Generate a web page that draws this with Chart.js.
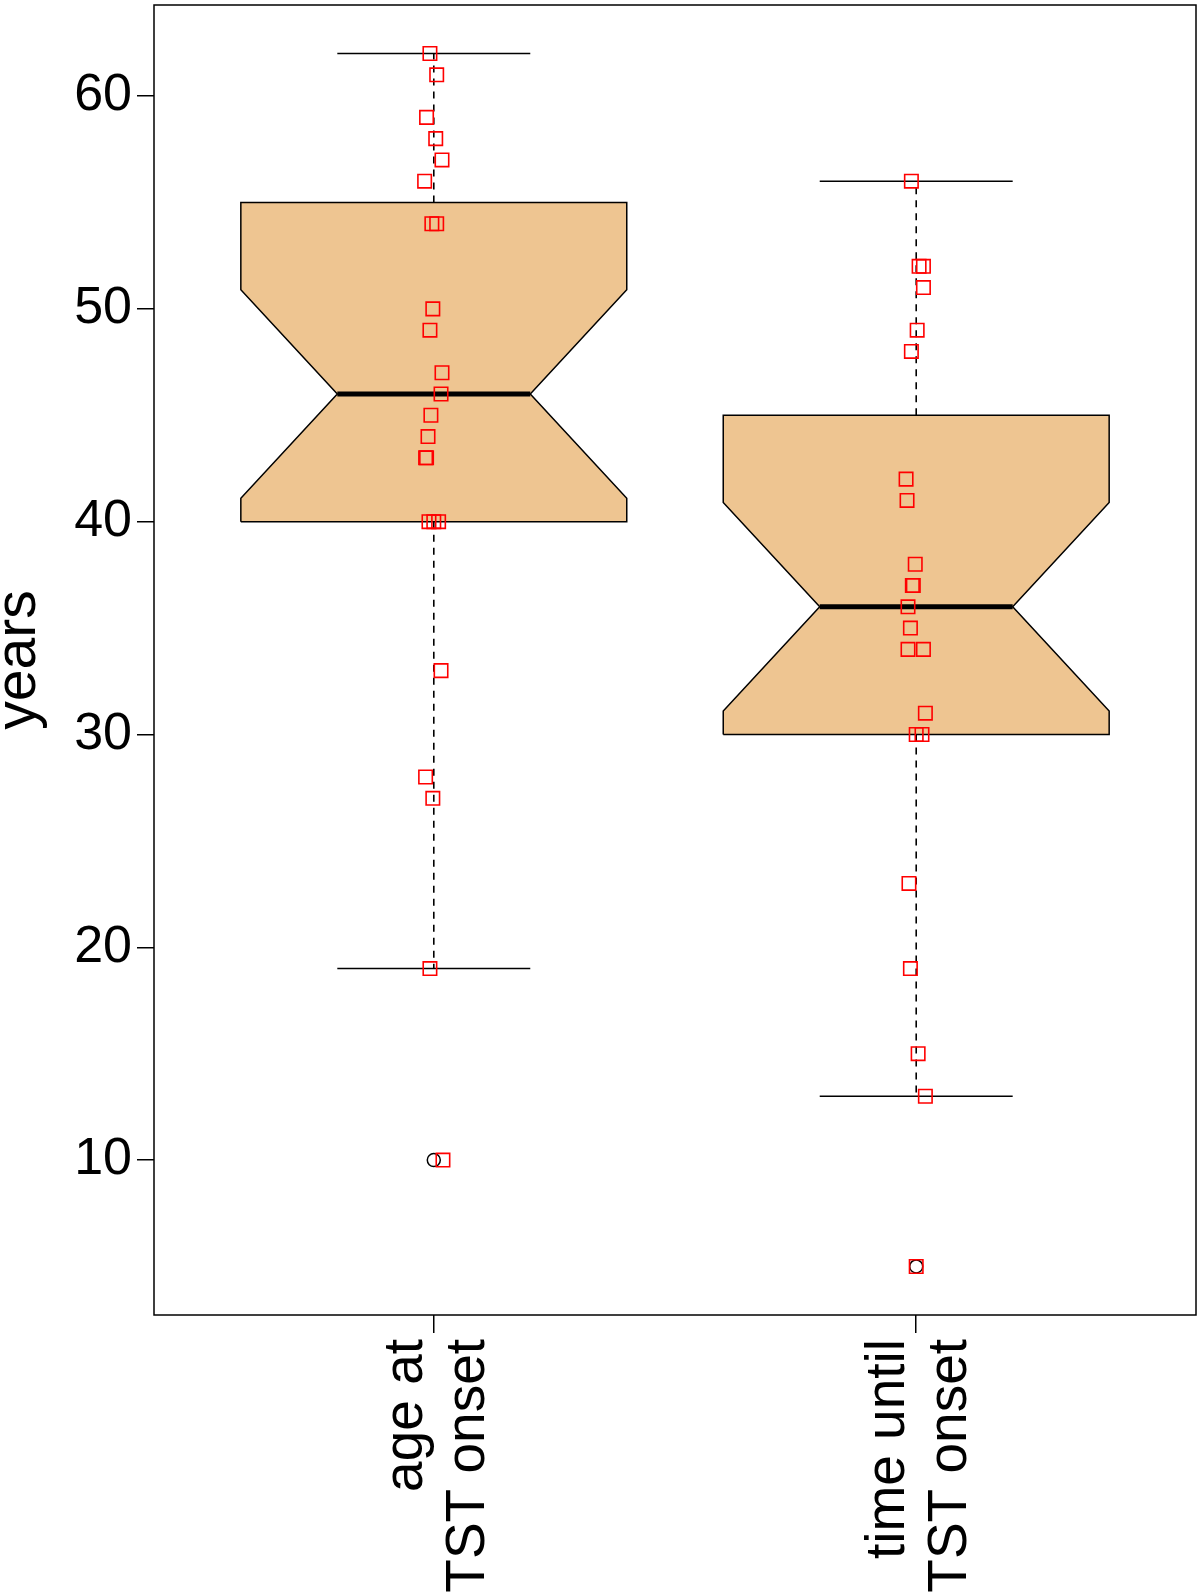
<!DOCTYPE html>
<html>
<head>
<meta charset="utf-8">
<title>years boxplot</title>
<script src="https://cdn.jsdelivr.net/npm/chart.js@4.4.1/dist/chart.umd.min.js"></script>
<style>
  html, body { margin: 0; padding: 0; background: #fff; }
  canvas { display: block; }
</style>
</head>
<body>
<canvas id="boxChart" width="1200" height="1592"></canvas>
<script>
// groups on the x axis (two lines each)
const categories = [['age at', 'TST onset'], ['time until', 'TST onset']];
const yTicks = [10, 20, 30, 40, 50, 60];

// box statistics
const lowerWhisker = [19, 13];
const q1 = [40, 30];
const notchLo = [41.1, 31.1];
const medians = [46, 36];
const notchHi = [50.9, 40.9];
const q3 = [55, 45];
const upperWhisker = [62, 56];
const outliers = [[10], [5]];

// individual observations (red squares) and their horizontal jitter
const ageValues = [62, 61, 59, 58, 57, 56, 54, 54, 50, 49, 47, 46, 45, 44, 43, 43, 40, 40, 40, 33, 28, 27, 19, 10];
const ageJitter = [-0.008, 0.006, -0.015, 0.004, 0.017, -0.019, -0.004, 0.006, -0.002, -0.008, 0.017, 0.015, -0.006, -0.012, -0.017, -0.015, -0.010, 0, 0.010, 0.015, -0.017, -0.002, -0.008, 0.019];
const timeValues = [56, 52, 52, 51, 49, 48, 42, 41, 38, 37, 37, 36, 35, 34, 34, 31, 30, 30, 23, 19, 15, 13, 5];
const timeJitter = [-0.010, 0.006, 0.015, 0.015, 0.002, -0.010, -0.021, -0.019, -0.002, -0.008, -0.006, -0.017, -0.012, -0.017, 0.015, 0.019, 0, 0.012, -0.015, -0.012, 0.004, 0.019, 0];

const BOX_HALF = 0.4;
const CAP_HALF = 0.2;
const FILL = '#EEC591';

function notchedBox(i) {
    const c = i + 1;
    const l = c - BOX_HALF, r = c + BOX_HALF;
    return [
        { x: l, y: q1[i] }, { x: l, y: notchLo[i] }, { x: c - CAP_HALF, y: medians[i] },
        { x: l, y: notchHi[i] }, { x: l, y: q3[i] }, { x: r, y: q3[i] },
        { x: r, y: notchHi[i] }, { x: c + CAP_HALF, y: medians[i] }, { x: r, y: notchLo[i] },
        { x: r, y: q1[i] }, { x: l, y: q1[i] }
    ];
}

function lineSet(data, opts) {
    return Object.assign({
        type: 'scatter',
        data: data,
        showLine: true,
        fill: false,
        borderColor: '#000',
        borderWidth: 1.5,
        pointRadius: 0,
        tension: 0
    }, opts);
}

const datasets = [];
categories.forEach((cat, i) => {
    const c = i + 1;
    datasets.push(lineSet(notchedBox(i), { fill: 'shape', backgroundColor: FILL, order: 6 }));
    datasets.push(lineSet([{ x: c - CAP_HALF, y: medians[i] }, { x: c + CAP_HALF, y: medians[i] }], { borderWidth: 5, order: 5 }));
    datasets.push(lineSet([{ x: c, y: q3[i] }, { x: c, y: upperWhisker[i] }], { borderDash: [7, 6], borderWidth: 1.6, order: 5 }));
    datasets.push(lineSet([{ x: c, y: q1[i] }, { x: c, y: lowerWhisker[i] }], { borderDash: [7, 6], borderWidth: 1.6, order: 5 }));
    datasets.push(lineSet([{ x: c - CAP_HALF, y: upperWhisker[i] }, { x: c + CAP_HALF, y: upperWhisker[i] }], { order: 5 }));
    datasets.push(lineSet([{ x: c - CAP_HALF, y: lowerWhisker[i] }, { x: c + CAP_HALF, y: lowerWhisker[i] }], { order: 5 }));
    datasets.push({
        type: 'scatter',
        data: outliers[i].map(v => ({ x: c, y: v })),
        pointStyle: 'circle',
        pointRadius: 6.5,
        borderColor: '#000',
        borderWidth: 1.5,
        backgroundColor: 'rgba(0,0,0,0)',
        order: 3
    });
});

const obsSets = [[ageValues, ageJitter], [timeValues, timeJitter]];
obsSets.forEach(([vals, jit], i) => {
    datasets.push({
        type: 'scatter',
        data: vals.map((v, k) => ({ x: i + 1 + jit[k], y: v })),
        pointStyle: 'rect',
        pointRadius: 9.5,
        borderColor: '#FF0000',
        borderWidth: 1.6,
        backgroundColor: 'rgba(0,0,0,0)',
        order: 1
    });
});

// frame around the plotting region, like R's box()
const frameBox = {
    id: 'frameBox',
    afterDraw(chart) {
        const a = chart.chartArea;
        const ctx = chart.ctx;
        ctx.save();
        ctx.strokeStyle = '#000';
        ctx.lineWidth = 1.5;
        ctx.strokeRect(a.left, a.top, a.right - a.left, a.bottom - a.top);
        ctx.restore();
    }
};

function noPadding(axis) {
    axis.paddingTop = 0;
    axis.paddingBottom = 0;
    axis.paddingLeft = 0;
    axis.paddingRight = 0;
}

const FONT = "'Liberation Sans', Arial, Helvetica, sans-serif";

new Chart(document.getElementById('boxChart'), {
    type: 'scatter',
    data: { datasets: datasets },
    options: {
        responsive: false,
        devicePixelRatio: 1,
        animation: false,
        events: [],
        layout: { autoPadding: false, padding: { top: 5, right: 4, left: 0, bottom: 0 } },
        plugins: {
            legend: { display: false },
            tooltip: { enabled: false }
        },
        scales: {
            x: {
                type: 'linear',
                min: 0.42,
                max: 2.58,
                afterBuildTicks: axis => { axis.ticks = categories.map((c, i) => ({ value: i + 1 })); },
                afterFit: axis => { axis.height = 277; noPadding(axis); },
                border: { display: false },
                grid: { drawOnChartArea: false, drawTicks: true, tickLength: 18, color: '#000', lineWidth: 1.5 },
                ticks: {
                    autoSkip: false,
                    minRotation: 90,
                    maxRotation: 90,
                    padding: 6,
                    labelOffset: -27,
                    color: '#000',
                    font: { family: FONT, size: 55, lineHeight: 1.12 },
                    callback: v => categories[Math.round(v) - 1]
                }
            },
            y: {
                min: 2.72,
                max: 64.28,
                afterBuildTicks: axis => { axis.ticks = yTicks.map(v => ({ value: v })); },
                afterFit: axis => { axis.width = 154; noPadding(axis); },
                border: { display: false },
                grid: { drawOnChartArea: false, drawTicks: true, tickLength: 17, color: '#000', lineWidth: 1.5 },
                ticks: {
                    padding: 5,
                    color: '#000',
                    font: { family: FONT, size: 52 }
                },
                title: {
                    display: true,
                    text: 'years',
                    color: '#000',
                    padding: { top: 5, bottom: 0 },
                    font: { family: FONT, size: 57, lineHeight: 0.5 }
                }
            }
        }
    },
    plugins: [frameBox]
});
</script>
</body>
</html>
